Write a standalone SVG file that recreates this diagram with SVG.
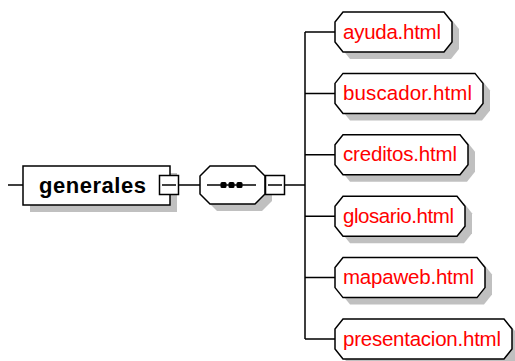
<svg xmlns="http://www.w3.org/2000/svg" width="515" height="361" viewBox="0 0 515 361">
<style>
.sh{fill:#c0c0c0;stroke:none}
.bx{fill:#fff;stroke:#000;stroke-width:1.5}
.ln{fill:none;stroke:#000;stroke-width:1.5}
.lbl{font-family:"Liberation Sans",Arial,sans-serif;font-size:20.5px;fill:#ff0000}
.root{font-family:"Liberation Sans",Arial,sans-serif;font-size:22px;font-weight:bold;fill:#000}
</style>
<rect width="515" height="361" fill="#fff"/>
<g id="connectors">
<path class="ln" d="M8 185H23M179 185H200M285 185H305M305 32V339M305 32H335M305 93.4H335M305 154.8H335M305 216.2H335M305 277.6H335M305 339H335"/>
</g>
<g id="generales">
<rect class="sh" x="30" y="173" width="147" height="39"/>
<rect class="bx" x="23" y="166" width="147" height="39"/>
<rect class="bx" x="159.5" y="175.5" width="19" height="19"/>
<path class="ln" d="M162 185H176"/>
<text class="root" x="39" y="193" textLength="107" lengthAdjust="spacing">generales</text>
</g>
<g id="sequence">
<path class="sh" d="M217 173H262L272 183V201L262 211H217L207 201V183Z"/>
<path class="bx" d="M210 166H255L265 176V194L255 204H210L200 194V176Z"/>
<path class="ln" d="M207 185H256"/>
<rect x="220.5" y="182" width="6" height="6" rx="1.5" fill="#000"/>
<rect x="228.5" y="182" width="6" height="6" rx="1.5" fill="#000"/>
<rect x="236.5" y="182" width="6" height="6" rx="1.5" fill="#000"/>
<rect class="bx" x="265.5" y="175.5" width="19" height="19"/>
<path class="ln" d="M268 185H282"/>
</g>
<g id="ayuda">
<path class="sh" d="M350 19H451L459 29V49L451 59H350L342 49V29Z"/>
<path class="bx" d="M343 12H444L452 22V42L444 52H343L335 42V22Z"/>
<text class="lbl" x="343" y="38.5" textLength="98" lengthAdjust="spacing">ayuda.html</text>
</g>
<g id="buscador">
<path class="sh" d="M350 80.4H482L490 90.4V110.4L482 120.4H350L342 110.4V90.4Z"/>
<path class="bx" d="M343 73.4H475L483 83.4V103.4L475 113.4H343L335 103.4V83.4Z"/>
<text class="lbl" x="343" y="99.9" textLength="129" lengthAdjust="spacing">buscador.html</text>
</g>
<g id="creditos">
<path class="sh" d="M350 141.8H467L475 151.8V171.8L467 181.8H350L342 171.8V151.8Z"/>
<path class="bx" d="M343 134.8H460L468 144.8V164.8L460 174.8H343L335 164.8V144.8Z"/>
<text class="lbl" x="343" y="161.3" textLength="114" lengthAdjust="spacing">creditos.html</text>
</g>
<g id="glosario">
<path class="sh" d="M350 203.2H464L472 213.2V233.2L464 243.2H350L342 233.2V213.2Z"/>
<path class="bx" d="M343 196.2H457L465 206.2V226.2L457 236.2H343L335 226.2V206.2Z"/>
<text class="lbl" x="343" y="222.7" textLength="111" lengthAdjust="spacing">glosario.html</text>
</g>
<g id="mapaweb">
<path class="sh" d="M350 264.6H484L492 274.6V294.6L484 304.6H350L342 294.6V274.6Z"/>
<path class="bx" d="M343 257.6H477L485 267.6V287.6L477 297.6H343L335 287.6V267.6Z"/>
<text class="lbl" x="343" y="284.1" textLength="131" lengthAdjust="spacing">mapaweb.html</text>
</g>
<g id="presentacion">
<path class="sh" d="M350 326H511L519 336V356L511 366H350L342 356V336Z"/>
<path class="bx" d="M343 319H504L512 329V349L504 359H343L335 349V329Z"/>
<text class="lbl" x="343" y="345.5" textLength="158" lengthAdjust="spacing">presentacion.html</text>
</g>
</svg>
